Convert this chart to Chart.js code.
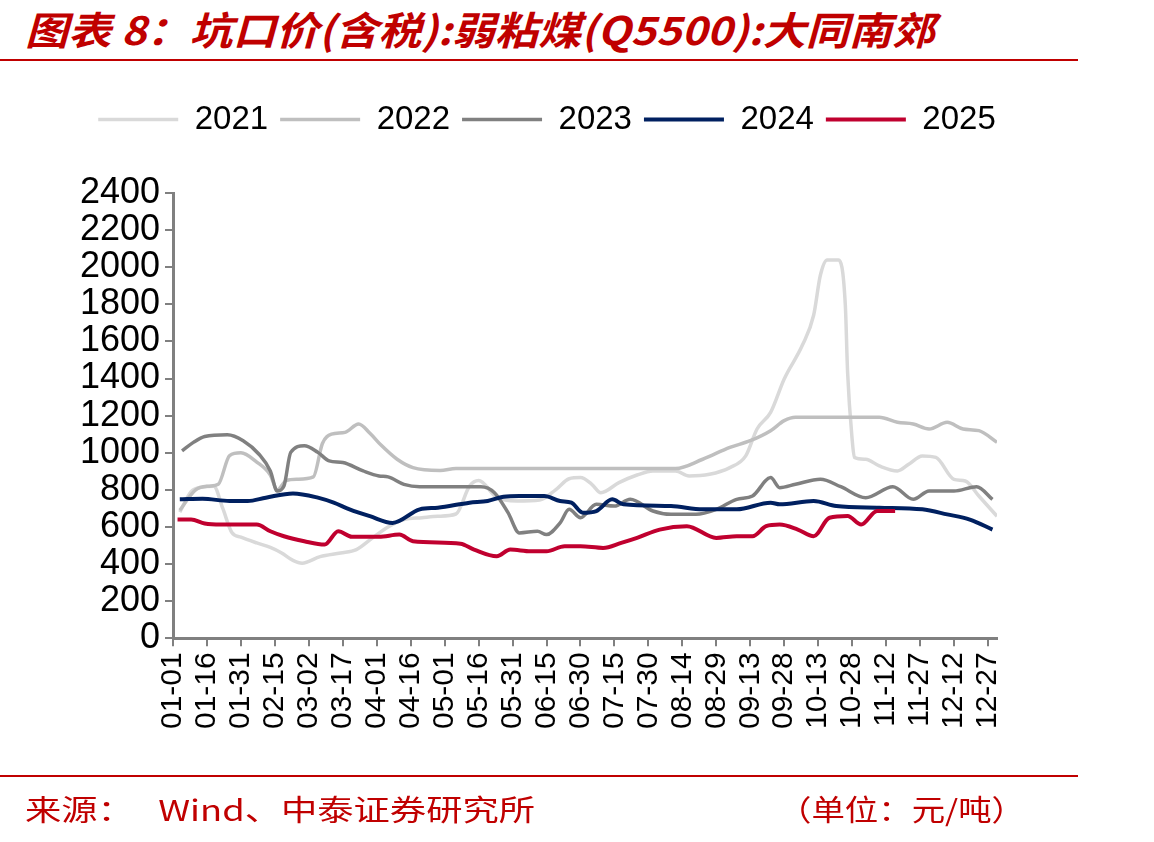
<!DOCTYPE html>
<html>
<head>
<meta charset="utf-8">
<script src="https://cdn.jsdelivr.net/npm/chart.js@4/dist/chart.umd.min.js"></script>
<style>
html,body{margin:0;padding:0;background:#fff;}
body{width:1154px;height:842px;position:relative;overflow:hidden;font-family:"Liberation Sans",Arial,sans-serif;}
#chartBox{position:absolute;left:0;top:0;width:1154px;height:842px;}
.txt{position:absolute;white-space:nowrap;color:#c00000;transform-origin:0 50%;}
#title{left:25px;top:6px;font-family:"Noto Sans CJK SC",sans-serif;font-weight:bold;font-style:italic;font-size:39px;line-height:44px;}
#src{left:25px;top:789px;font-family:"Noto Sans CJK SC",sans-serif;font-size:29px;line-height:38px;}
#unit{left:778px;top:789px;font-family:"Noto Sans CJK SC",sans-serif;font-size:29px;line-height:38px;}
.rule{position:absolute;left:0;width:1078px;height:2px;background:#c00000;}
</style>
</head>
<body>
<div id="title" class="txt">图表 8：坑口价(含税):弱粘煤(Q5500):大同南郊</div>
<div class="rule" style="top:59px"></div>
<div id="chartBox"><canvas id="c" width="1154" height="842"></canvas></div>
<div class="rule" style="top:775px"></div>
<div id="src" class="txt">来源：&nbsp;&nbsp;&nbsp;Wind、中泰证券研究所</div>
<div id="unit" class="txt">（单位：元/吨）</div>
<script>
// x tick labels (every 15 days from 01-01)
const tickLabels = ['01-01','01-16','01-31','02-15','03-02','03-17','04-01','04-16','05-01','05-16','05-31','06-15','06-30','07-15','07-30','08-14','08-29','09-13','09-28','10-13','10-28','11-12','11-27','12-12','12-27'];
const seriesNames = ['2021','2022','2023','2024','2025'];
const seriesColors = ['#d9d9d9','#bfbfbf','#808080','#002060','#c0002f'];

// day-of-year offsets (0 = 01-01) and prices (元/吨)
const days2021 = [3,8,13,18,22,26,30,37,43,48,53,57,65,74,81,88,95,102,110,117,125,131,135,143,152,162,169,175,180,185,189,197,205,212,222,228,237,246,253,258,264,270,278,283,286,289,294,297,298,300,301,306,312,320,325,331,337,345,350,356,364];
const vals2021 = [680,790,815,820,700,570,545,514,490,460,420,405,440,460,478,540,600,640,650,658,670,820,850,760,740,745,800,860,866,830,785,839,880,902,902,875,884,920,983,1128,1218,1398,1579,1741,1958,2039,2039,1795,1435,1074,975,965,929,902,938,983,975,857,848,767,658];

const days2022 = [3,10,16,20,25,30,37,43,46,50,55,62,66,70,76,82,87,92,99,106,118,125,222,234,246,255,264,270,275,312,320,327,334,342,349,356,364];
const vals2022 = [690,800,820,830,985,1000,950,880,800,850,857,870,1050,1100,1110,1155,1105,1040,965,920,905,915,915,965,1029,1065,1119,1173,1191,1191,1164,1155,1128,1164,1128,1119,1056];

const days2023 = [4,9,14,24,31,38,43,46,49,52,58,64,69,75,84,91,95,102,109,136,142,148,153,161,165,171,175,180,187,195,202,212,220,231,240,249,256,264,268,275,286,295,306,318,327,334,345,355,362];
const vals2023 = [1010,1056,1088,1097,1065,992,902,794,821,1002,1038,1002,956,947,902,875,870,830,817,817,785,677,568,577,559,622,695,650,722,713,749,686,668,668,695,749,767,866,812,830,857,817,758,817,749,794,794,817,749];

const days2024 = [3,13,25,33,41,53,64,71,78,87,97,109,117,131,139,146,153,164,171,176,181,187,194,199,220,234,249,264,268,283,293,312,331,342,352,362];
const vals2024 = [749,752,740,740,758,781,758,731,695,658,622,695,704,731,740,763,767,767,740,731,677,686,749,722,713,695,695,731,722,740,713,704,695,668,640,586];

const days2025 = [2,8,14,21,37,43,49,58,67,73,79,91,100,106,127,133,143,149,158,165,173,180,190,198,205,215,227,240,249,256,262,268,276,283,290,298,304,311,319];
const vals2025 = [640,640,619,613,613,577,550,523,505,577,547,547,559,523,510,478,442,478,469,469,496,496,487,514,541,586,604,541,550,550,604,613,586,550,650,659,613,686,686];

const yTicks = [0,200,400,600,800,1000,1200,1400,1600,1800,2000,2200,2400];

const allDays = [days2021,days2022,days2023,days2024,days2025];
const allVals = [vals2021,vals2022,vals2023,vals2024,vals2025];
const widths = [3.5,3.5,3.5,4,4];

const datasets = seriesNames.map((name,i)=>({
  label: name,
  data: allDays[i].map((d,j)=>({x:d,y:allVals[i][j]})),
  borderColor: seriesColors[i],
  backgroundColor: seriesColors[i],
  borderWidth: widths[i],
  pointRadius: 0,
  cubicInterpolationMode: 'monotone',
  fill: false,
  order: 4 - i
}));

const FONT = '"Liberation Sans", Arial, sans-serif';

new Chart(document.getElementById('c'), {
  type: 'line',
  data: { datasets },
  options: {
    responsive: false,
    animation: false,
    events: [],
    layout: { padding: { left: 60, right: 120, top: 91, bottom: 93.7 } },
    plugins: {
      legend: {
        display: true, position: 'top', align: 'center', weight: 3000,
        labels: {
          usePointStyle: true, pointStyle: 'line', pointStyleWidth: 80,
          boxHeight: 33, padding: 12, color: '#000',
          font: { family: FONT, size: 33 },
          sort: (a,b) => a.datasetIndex - b.datasetIndex
        }
      },
      title: { display: true, text: ' ', font: { size: 10, lineHeight: 1.2 }, padding: { top: 0, bottom: 35 } },
      tooltip: { enabled: false }
    },
    scales: {
      x: {
        type: 'linear', min: 0, max: 364,
        afterBuildTicks: (s) => { s.ticks = tickLabels.map((_,i)=>({ value: i*15 })); },
        afterFit: (s) => { s.height = 110; },
        ticks: {
          autoSkip: false, maxRotation: 90, minRotation: 90, color: '#000', padding: 6,
          font: { family: FONT, size: 30 },
          callback: (v) => tickLabels[Math.round(v/15)]
        },
        grid: { display: true, drawOnChartArea: false, drawTicks: true, tickLength: 8, color: '#808080', lineWidth: 2 },
        border: { display: true, color: '#808080', width: 3 }
      },
      y: {
        type: 'linear', min: 0, max: 2400, position: 'left',
        afterBuildTicks: (s) => { s.ticks = yTicks.map(v=>({ value: v })); },
        afterFit: (s) => { s.width = 113; },
        ticks: { autoSkip: false, color: '#000', padding: 5, font: { family: FONT, size: 36 }, callback: (v) => String(v) },
        grid: { display: true, drawOnChartArea: false, drawTicks: true, tickLength: 8, color: '#808080', lineWidth: 2 },
        border: { display: true, color: '#808080', width: 3 }
      },
      yR: {
        type: 'linear', position: 'right', display: true,
        afterFit: (s) => { s.width = 37; },
        ticks: { display: false },
        grid: { display: false, drawTicks: false },
        border: { display: false }
      }
    }
  }
});

// stretch text blocks horizontally to match reference widths
function fit(id, target){
  const el = document.getElementById(id);
  const w = el.getBoundingClientRect().width;
  el.style.transform = 'scaleX(' + (target / w) + ')';
}
fit('title', 910);
fit('src', 510);
fit('unit', 247);
</script>
</body>
</html>
